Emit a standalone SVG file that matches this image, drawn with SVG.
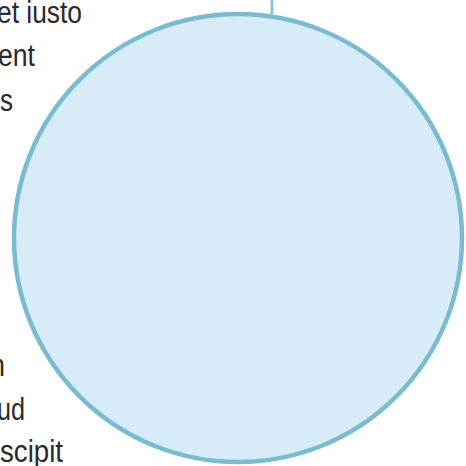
<svg xmlns="http://www.w3.org/2000/svg" width="466" height="466" viewBox="0 0 466 466">
<style>
.t{font-family:"Liberation Sans",Arial,sans-serif;font-size:31px;fill:#2a2a2a;}
</style>
<rect width="466" height="466" fill="#fff"/>
<g id="connectors">
<line x1="272" y1="0" x2="272" y2="14" stroke="#8cc4d6" stroke-width="3"/>
</g>
<g id="circle">
<circle cx="238" cy="238" r="224" fill="#d8ecf7" stroke="#79bcd2" stroke-width="4.5"/>
</g>
<g id="text-top">
<text class="t" x="-3" y="23" textLength="85" lengthAdjust="spacingAndGlyphs">et iusto</text>
<text class="t" x="-2" y="66" textLength="37" lengthAdjust="spacingAndGlyphs">ent</text>
<text class="t" x="0" y="111" textLength="13" lengthAdjust="spacingAndGlyphs">s</text>
</g>
<g id="text-bottom">
<text class="t" x="-10" y="376" textLength="15" lengthAdjust="spacingAndGlyphs">n</text>
<text class="t" x="-3" y="420" textLength="28" lengthAdjust="spacingAndGlyphs">ud</text>
<text class="t" x="0" y="462" textLength="63" lengthAdjust="spacingAndGlyphs">scipit</text>
</g>
</svg>
